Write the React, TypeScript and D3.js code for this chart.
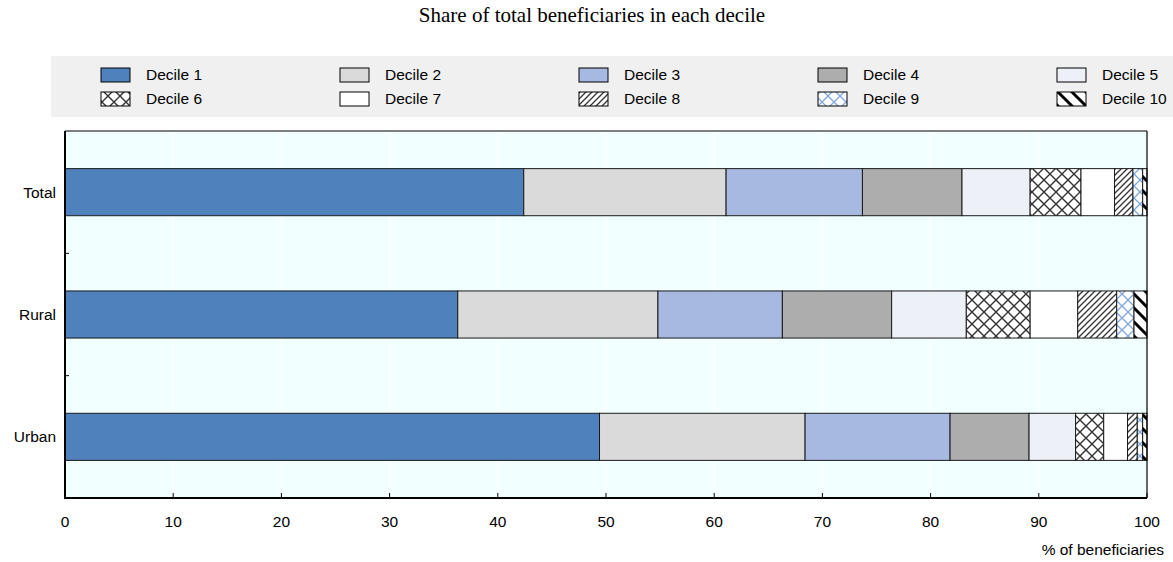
import * as d3 from "d3";

const categories = ["Total", "Rural", "Urban"];
const deciles = [
  "Decile 1", "Decile 2", "Decile 3", "Decile 4", "Decile 5",
  "Decile 6", "Decile 7", "Decile 8", "Decile 9", "Decile 10",
];
const totalShares = [42.4, 18.7, 12.6, 9.2, 6.3, 4.7, 3.1, 1.7, 0.9, 0.4];
const ruralShares = [36.3, 18.5, 11.5, 10.1, 6.9, 5.9, 4.4, 3.6, 1.6, 1.2];
const urbanShares = [49.4, 19.0, 13.4, 7.3, 4.3, 2.6, 2.2, 0.9, 0.5, 0.4];
const xTicks = [0, 10, 20, 30, 40, 50, 60, 70, 80, 90, 100];

const fills = [
  "#4f81bd", "#dadada", "#a7b8e1", "#adadad", "#eef0f8",
  "url(#p6)", "#ffffff", "url(#p8)", "url(#p9)", "url(#p10)",
];

const W = 1173;
const H = 562;
const margin = { top: 131, right: 26, bottom: 64, left: 65 };
const font = "'Liberation Sans', Arial, sans-serif";
const fs = 15.5;

export default function App() {
  const rows = [totalShares, ruralShares, urbanShares];
  const stackData = categories.map((c, i) => {
    const o: Record<string, any> = { cat: c };
    deciles.forEach((d, j) => (o[d] = rows[i][j]));
    return o;
  });
  const series = d3.stack().keys(deciles)(stackData as any);

  const x = d3.scaleLinear().domain([0, 100]).range([margin.left, W - margin.right]);
  const y = d3
    .scaleBand()
    .domain(categories)
    .range([margin.top, H - margin.bottom])
    .paddingInner(0.615)
    .paddingOuter(0.3075);
  const step = y.step();
  const x0 = x(0), x1 = x(100);
  const yTop = margin.top, yBot = H - margin.bottom;

  return (
    <svg width={W} height={H} style={{ position: "absolute", left: 0, top: 0 }}>
      <defs>
        <pattern id="p6" width="12" height="12" patternUnits="userSpaceOnUse">
          <rect width="12" height="12" fill="#fff" />
          <path d="M0,0 L12,12 M12,0 L0,12" stroke="#333" strokeWidth="1.4" />
        </pattern>
        <pattern id="p8" width="6" height="6" patternUnits="userSpaceOnUse">
          <rect width="6" height="6" fill="#fff" />
          <path d="M-1,7 L7,-1 M-1,1 L1,-1 M5,7 L7,5" stroke="#333" strokeWidth="1.3" />
        </pattern>
        <pattern id="p9" width="12" height="12" patternUnits="userSpaceOnUse">
          <rect width="12" height="12" fill="#fff" />
          <path d="M0,0 L12,12 M12,0 L0,12" stroke="#7fa7db" strokeWidth="1.3" />
        </pattern>
        <pattern id="p10" width="14" height="14" patternUnits="userSpaceOnUse">
          <rect width="14" height="14" fill="#fff" />
          <path d="M-2,-2 L16,16 M-2,12 L2,16 M12,-2 L16,2" stroke="#000" strokeWidth="3" />
        </pattern>
      </defs>

      <text x={592} y={22} textAnchor="middle" fontFamily="'Liberation Serif', 'Times New Roman', serif" fontSize={21}>
        Share of total beneficiaries in each decile
      </text>

      <rect x={51} y={56} width={W - 51} height={61} fill="#f0f0f0" />
      {deciles.map((d, i) => {
        const col = i % 5;
        const row = Math.floor(i / 5);
        const lx = 101 + col * 239;
        const ly = 75 + row * 24;
        return (
          <g key={d}>
            <rect x={lx} y={ly - 7} width={29} height={14} fill={fills[i]} stroke="#000" strokeWidth={1} />
            <text x={lx + 45} y={ly} dy="0.35em" fontFamily={font} fontSize={fs}>
              {d}
            </text>
          </g>
        );
      })}

      <rect x={x0} y={yTop} width={x1 - x0} height={yBot - yTop} fill="#f2ffff" />
      {xTicks.slice(1, -1).map((t) => (
        <line key={t} x1={x(t)} x2={x(t)} y1={yTop} y2={yBot} stroke="#ffffff" strokeWidth={1} />
      ))}

      {series.map((s, i) =>
        s.map((seg: any) => (
          <rect
            key={`${i}-${seg.data.cat}`}
            x={x(seg[0])}
            y={y(seg.data.cat)}
            width={x(seg[1]) - x(seg[0])}
            height={y.bandwidth()}
            fill={fills[i]}
            stroke="#1a1a1a"
            strokeWidth={1}
          />
        ))
      )}

      <line x1={x0} x2={x1} y1={yTop} y2={yTop} stroke="#000" strokeWidth={1.2} />
      <line x1={x1} x2={x1} y1={yTop} y2={yBot} stroke="#000" strokeWidth={1.2} />
      <line x1={x0} x2={x0} y1={yTop} y2={yBot + 1} stroke="#000" strokeWidth={2} />
      <line x1={x0} x2={x1} y1={yBot} y2={yBot} stroke="#000" strokeWidth={2} />

      {xTicks.map((t) => (
        <g key={t}>
          <line x1={x(t)} x2={x(t)} y1={yBot} y2={yBot - 5} stroke="#000" strokeWidth={1} />
          <text x={x(t)} y={yBot + 29} textAnchor="middle" fontFamily={font} fontSize={fs}>
            {t}
          </text>
        </g>
      ))}
      {categories.slice(1).map((c) => (
        <line key={c} x1={x0} x2={x0 + 4} y1={y(c)! - (step - y.bandwidth()) / 2} y2={y(c)! - (step - y.bandwidth()) / 2} stroke="#000" strokeWidth={1} />
      ))}
      {categories.map((c) => (
        <text key={c} x={56} y={y(c)! + y.bandwidth() / 2} dy="0.35em" textAnchor="end" fontFamily={font} fontSize={fs}>
          {c}
        </text>
      ))}
      <text x={1164} y={555} textAnchor="end" fontFamily={font} fontSize={fs}>
        % of beneficiaries
      </text>
    </svg>
  );
}
